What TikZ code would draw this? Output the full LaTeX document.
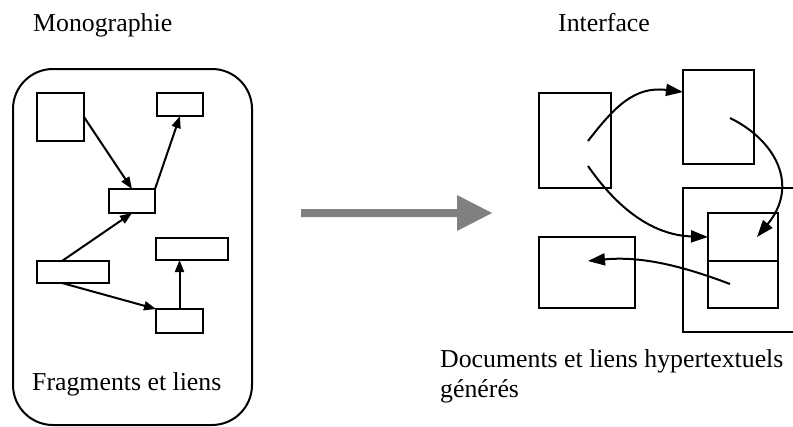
\documentclass[tikz,border=0pt]{standalone}
\usepackage{fontspec}
\setmainfont{Liberation Serif}
\usetikzlibrary{arrows.meta}
\definecolor{flowgray}{HTML}{808080}
\tikzset{
  lbl/.style={font=\fontsize{25.8}{30}\selectfont, inner sep=0pt, anchor=base west},
  frag/.style={draw, line width=2.6pt, minimum width=#1, inner sep=0pt, outer sep=0pt},
  doc/.style={draw, line width=2.8pt, inner sep=0pt, outer sep=0pt},
  link/.style={line width=2pt, -{Triangle[length=12pt,width=9pt]}},
  hlink/.style={line width=2pt, -{Triangle[length=17pt,width=12pt]}},
}
\begin{document}
\begin{tikzpicture}[x=1pt,y=-1pt]
\useasboundingbox (0,0) rectangle (793,426);
\clip (0,0) rectangle (793,426);

% ---- left part: the monograph ----
\node[lbl] (mono) at (33,31) {Monographie};
\draw[line width=2pt, rounded corners=40pt] (13,69) rectangle (252,425);
\node[lbl] (frag) at (32,390) {Fragments et liens};

\node[frag=47pt, minimum height=48pt] (sq)  at (60.5,117)  {};
\node[frag=46pt, minimum height=23pt] (tr)  at (180,104.5) {};
\node[frag=46pt, minimum height=24pt] (mid) at (132,201)   {};
\node[frag=72pt, minimum height=22pt] (rm)  at (192,249)   {};
\node[frag=72pt, minimum height=22pt] (ll)  at (73,272)    {};
\node[frag=47pt, minimum height=24pt] (bot) at (179.5,321) {};

\draw[link] (sq.east) -- (mid.north);
\draw[link] (mid.north east) -- (tr.south);
\draw[link] ([xshift=-11pt]ll.north) -- (mid.south);
\draw[link] ([xshift=-11pt]ll.south) -- (bot.north west);
\draw[link] (bot.north) -- (bot.north |- rm.south);

% ---- transformation arrow ----
\coordinate (gs) at (301,213);
\coordinate (gh) at (457,213);
\coordinate (ge) at (492,213);
\fill[flowgray] ([yshift=4pt]gs) -- ([yshift=4pt]gh) -- ([yshift=18pt]gh) -- (ge)
  -- ([yshift=-18pt]gh) -- ([yshift=-4pt]gh) -- ([yshift=-4pt]gs) -- cycle;

% ---- right part: the generated interface ----
\node[lbl] (intf) at (558,31) {Interface};
\node[lbl] (docs) at (440,367) {Documents et liens hypertextuels};
\node[lbl] (gen)  at (440,397) {générés};

\node[doc, minimum width=72pt, minimum height=95pt] (A) at (575,140.5) {};
\node[doc, minimum width=71pt, minimum height=94pt] (B) at (718.5,117) {};
\node[doc, minimum width=96pt, minimum height=71pt] (C) at (587,272.5) {};
\draw[line width=2.8pt] (800,188) -- (683,188) -- (683,332) -- (800,332);
\node[doc, minimum width=70pt, minimum height=48pt] (it) at (743,237)   {};
\node[doc, minimum width=70pt, minimum height=47pt] (ib) at (743,284.5) {};

\coordinate (a1) at (588,141);
\coordinate (a2) at (588,166);
\coordinate (b1) at (730,118);
\coordinate (t1) at (757,237);
\coordinate (u1) at (730,284);
\coordinate (c1) at (588,261);

\draw[hlink] (a1) .. controls (615,106) and (635,86) .. ([yshift=25pt]B.west);
\draw[hlink] (b1) .. controls (775,140) and (800,185) .. (t1);
\draw[hlink] (a2) .. controls (615,205) and (650,235) .. (it.west);
\draw[hlink] (u1) .. controls (680,265) and (640,256) .. (c1);
\end{tikzpicture}
\end{document}
